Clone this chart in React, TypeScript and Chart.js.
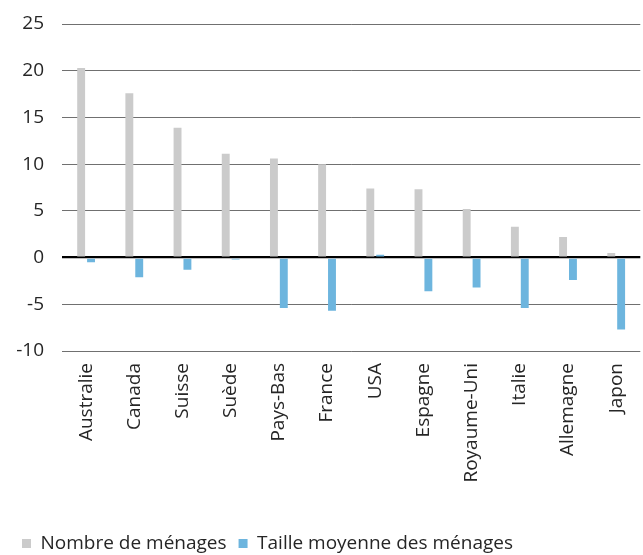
import React, { useEffect, useRef } from "react";
import { Chart, registerables } from "chart.js";

Chart.register(...registerables);

const countries = [
  "Australie", "Canada", "Suisse", "Suède", "Pays-Bas", "France",
  "USA", "Espagne", "Royaume-Uni", "Italie", "Allemagne", "Japon",
];
const householdCount = [20.3, 17.6, 13.9, 11.1, 10.6, 10.0, 7.4, 7.3, 5.2, 3.3, 2.2, 0.5];
const householdSize = [-0.5, -2.1, -1.3, -0.2, -5.4, -5.7, 0.3, -3.6, -3.2, -5.4, -2.4, -7.7];
const seriesLabels = ["Nombre de ménages", "Taille moyenne des ménages"];
const yTicks = { min: -10, max: 25, step: 5 };

const FONT = "'Open Sans', 'DejaVu Sans', sans-serif";
const FONT_SIZE = 19;

export default function App() {
  const canvasRef = useRef<HTMLCanvasElement | null>(null);

  useEffect(() => {
    document.body.style.margin = "0";
    const canvas = canvasRef.current;
    if (!canvas) return;
    const chart = new Chart(canvas, {
      type: "bar",
      data: {
        labels: countries,
        datasets: [
          {
            label: seriesLabels[0],
            data: householdCount,
            backgroundColor: "#cbcbcb",
            categoryPercentage: 0.41,
            barPercentage: 0.8,
          },
          {
            label: seriesLabels[1],
            data: householdSize,
            backgroundColor: "#6db5de",
            categoryPercentage: 0.41,
            barPercentage: 0.8,
          },
        ],
      },
      options: {
        animation: false,
        responsive: false,
        maintainAspectRatio: false,
        layout: { padding: { left: 10, right: 0, top: 24, bottom: -8 } },
        plugins: {
          tooltip: { enabled: false },
          legend: {
            position: "bottom",
            align: "start",
            labels: {
              boxWidth: 9,
              boxHeight: 9,
              padding: 12,
              color: "#262626",
              font: { family: FONT, size: FONT_SIZE },
            },
          },
        },
        scales: {
          x: {
            afterFit: (scale: any) => {
              scale.height = 171;
            },
            grid: { display: false },
            border: { display: false },
            ticks: {
              minRotation: 90,
              maxRotation: 90,
              autoSkip: false,
              padding: 4,
              color: "#262626",
              font: { family: FONT, size: FONT_SIZE },
            },
          },
          y: {
            min: yTicks.min,
            max: yTicks.max,
            afterFit: (scale: any) => {
              scale.width = 52;
              scale.paddingTop = 0;
              scale.paddingBottom = 0;
            },
            border: { display: false },
            grid: {
              drawTicks: false,
              color: (ctx: any) => (ctx.tick && ctx.tick.value === 0 ? "#000000" : "#707070"),
              lineWidth: (ctx: any) => (ctx.tick && ctx.tick.value === 0 ? 2.2 : 1),
            },
            ticks: {
              stepSize: yTicks.step,
              padding: 18,
              color: "#262626",
              font: { family: FONT, size: FONT_SIZE },
            },
          },
        },
      },
    });
    return () => chart.destroy();
  }, []);

  return (
    <div style={{ width: 643, height: 555 }}>
      <canvas ref={canvasRef} width={643} height={555} style={{ display: "block" }} />
    </div>
  );
}
